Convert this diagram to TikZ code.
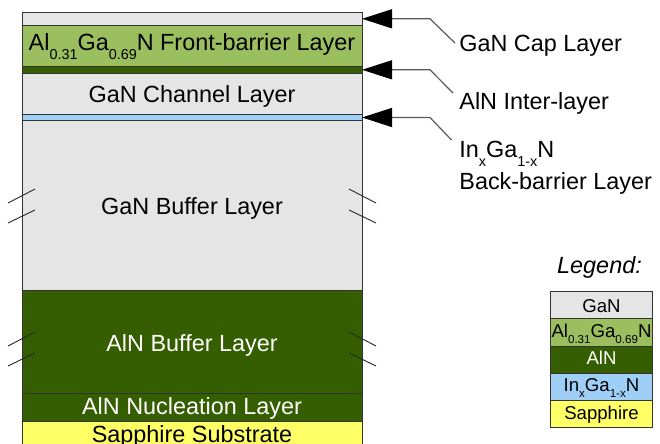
\documentclass[tikz,border=0pt]{standalone}
\usepackage{fontspec}
\setmainfont{Liberation Sans}
\usetikzlibrary{arrows.meta}
\definecolor{ganc}{HTML}{E5E5E5}
\definecolor{alganc}{HTML}{9BBE5E}
\definecolor{alnc}{HTML}{355E00}
\definecolor{inganc}{HTML}{9FCFF7}
\definecolor{sapc}{HTML}{FFFF66}
\newcommand\sbm[1]{\raisebox{-4.2pt}{\fontsize{7.2pt}{8pt}\selectfont #1}}
\newcommand\sbl[1]{\raisebox{-2.9pt}{\fontsize{5.8pt}{7pt}\selectfont #1}}
\begin{document}
\begin{tikzpicture}[x=0.5pt,y=-0.5pt,
  layer/.style={draw=black!80, line width=0.5pt, minimum width=170pt, inner sep=0pt, outer sep=0pt},
  txt/.style={font=\fontsize{11.7pt}{14pt}\selectfont, inner sep=0pt, anchor=base},
  lbl/.style={font=\fontsize{11.7pt}{14pt}\selectfont, inner sep=0pt, anchor=base west},
  legbox/.style={draw=black!80, line width=0.5pt, minimum width=50.8pt, minimum height=13.6pt, inner sep=0pt, outer sep=0pt},
  legtxt/.style={font=\fontsize{9.3pt}{11pt}\selectfont, inner sep=0pt, anchor=base},
  conn/.style={draw=black!65, line width=0.6pt, -{Triangle[length=15pt,width=9.5pt,black]}},
  brk/.style={draw=black!85, line width=0.45pt}]
\useasboundingbox (0,0) rectangle (660,444);
\clip (0,0) rectangle (660,444);
% layer stack
\node[layer, fill=ganc,   minimum height=6.5pt]   (cap)    at (192,18.8) {};
\node[layer, fill=alganc, minimum height=20.5pt]  (algan)  at (192,45.8) {};
\node[layer, fill=alnc,   minimum height=3.5pt]   (alnint) at (192,69.8) {};
\node[layer, fill=ganc,   minimum height=20.5pt]  (chan)   at (192,93.8) {};
\node[layer, fill=inganc, minimum height=3.2pt]   (ingan)  at (192,117.5) {};
\node[layer, fill=ganc,   minimum height=85.15pt] (gbuf)   at (192,205.85) {};
\node[layer, fill=alnc,   minimum height=51.5pt]  (abuf)   at (192,342.5) {};
\node[layer, fill=alnc,   minimum height=13.85pt] (nuc)    at (192,407.85) {};
\node[layer, fill=sapc,   minimum height=19.15pt] (sap)    at (192,440.85) {};
% layer texts
\node[txt] (talgan) at (192,51) {Al\sbm{0.31}Ga\sbm{0.69}N Front-barrier Layer};
\node[txt] (tchan)  at (192,102.3) {GaN Channel Layer};
\node[txt] (tgbuf)  at (192,214.3) {GaN Buffer Layer};
\node[txt, text=white] (tabuf) at (192,351) {AlN Buffer Layer};
\node[txt, text=white] (tnuc)  at (192,415) {AlN Nucleation Layer};
\node[txt] (tsap)   at (192,443) {Sapphire Substrate};
% break marks
\draw[brk] (8,203) -- (35,189);
\draw[brk] (8,223) -- (35,210);
\draw[brk] (349,189) -- (376,203);
\draw[brk] (349,210) -- (376,223);
\draw[brk] (8,346) -- (35,332);
\draw[brk] (8,366) -- (35,353);
\draw[brk] (349,332) -- (376,346);
\draw[brk] (349,353) -- (376,366);
% labels and connectors
\node[lbl] (lcap) at (459,52) {GaN Cap Layer};
\node[lbl] (lint) at (459,110) {AlN Inter-layer};
\node[lbl] (lin1) at (459,158) {In\sbm{x}Ga\sbm{1-x}N};
\node[lbl] (lin2) at (459,190) {Back-barrier Layer};
\coordinate (c1a) at ([xshift=34pt]cap.east);
\coordinate (c1b) at (455,43);
\coordinate (c2a) at ([xshift=34pt]alnint.east);
\coordinate (c2b) at (453,93);
\coordinate (c3a) at ([xshift=34pt]ingan.east);
\coordinate (c3b) at (451.5,140);
\draw[conn] (c1b) -- (c1a) -- (cap.east);
\draw[conn] (c2b) -- (c2a) -- (alnint.east);
\draw[conn] (c3b) -- (c3a) -- (ingan.east);
% legend
\node[font=\fontsize{11.7pt}{14pt}\selectfont\itshape, inner sep=0pt, anchor=base] (legt) at (599.5,274) {Legend:};
\node[legbox, fill=ganc]   (lg1) at (601.5,305.3) {};
\node[legbox, fill=alganc] (lg2) at (601.5,332.5) {};
\node[legbox, fill=alnc]   (lg3) at (601.5,359.7) {};
\node[legbox, fill=inganc] (lg4) at (601.5,386.9) {};
\node[legbox, fill=sapc]   (lg5) at (601.5,414.1) {};
\node[legtxt] (lgt1) at (601.5,312.7) {GaN};
\node[legtxt] (lgt2) at (601.5,337.3) {Al\sbl{0.31}Ga\sbl{0.69}N};
\node[legtxt, text=white] (lgt3) at (601.5,364.3) {AlN};
\node[legtxt] (lgt4) at (601.5,391.7) {In\sbl{x}Ga\sbl{1-x}N};
\node[legtxt] (lgt5) at (601.5,419.3) {Sapphire};
\end{tikzpicture}
\end{document}
